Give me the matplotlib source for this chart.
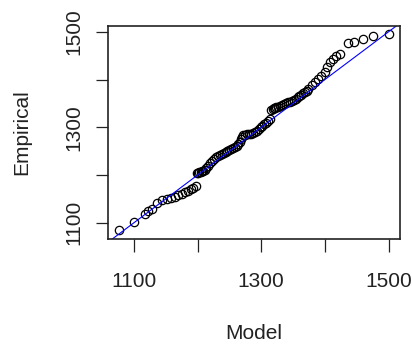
#!/usr/bin/env python
# -*- coding: utf-8 -*-

import matplotlib
matplotlib.use('Agg')
import matplotlib.pyplot as plt

# Q-Q points: model quantiles vs empirical quantiles
model_low = [1077, 1100, 1117, 1123, 1129, 1137, 1145, 1152, 1159, 1165,
			 1170, 1175, 1180, 1185, 1189, 1193, 1197]
empirical_low = [1084, 1101, 1118, 1124, 1130, 1142, 1147, 1149, 1151, 1155,
				 1158, 1161, 1164, 1167, 1170, 1173, 1177]

model_mid = [1199, 1201, 1203, 1205, 1207, 1209, 1211, 1214, 1217, 1220,
			 1223, 1226, 1229, 1232, 1235, 1238, 1241, 1244, 1247, 1250,
			 1253, 1256, 1259, 1262, 1264, 1266, 1268, 1270, 1272, 1275,
			 1278, 1281, 1284, 1287, 1290, 1293, 1296, 1299, 1302, 1305,
			 1308, 1311, 1314]
empirical_mid = [1204, 1205, 1206, 1207, 1208, 1209, 1211, 1215, 1220, 1226,
				 1230, 1234, 1237, 1240, 1242, 1244, 1246, 1248, 1250, 1252,
				 1254, 1256, 1258, 1260, 1264, 1270, 1276, 1280, 1283, 1284,
				 1285, 1286, 1287, 1288, 1290, 1293, 1297, 1300, 1303, 1306,
				 1310, 1314, 1318]

model_upper = [1316, 1318, 1320, 1322, 1324, 1327, 1330, 1333, 1336, 1339,
			   1342, 1345, 1348, 1351, 1354, 1357, 1360, 1363, 1366, 1369, 1372]
empirical_upper = [1336, 1338, 1340, 1341, 1342, 1343, 1345, 1346, 1348, 1350,
				   1352, 1354, 1356, 1358, 1360, 1363, 1366, 1368, 1371, 1374, 1377]

model_high = [1374, 1379, 1384, 1389, 1394, 1400, 1404, 1408, 1413, 1418,
			  1424, 1436, 1446, 1460, 1475, 1501]
empirical_high = [1380, 1388, 1394, 1402, 1408, 1416, 1427, 1437, 1444, 1450,
				  1454, 1476, 1478, 1485, 1492, 1496]

model = model_low + model_mid + model_upper + model_high
empirical = empirical_low + empirical_mid + empirical_upper + empirical_high

ticks = [1100, 1200, 1300, 1400, 1500]
tick_labels = ['1100', '', '1300', '', '1500']


def plot_qq(out_file='out.png'):
	plt.rcParams['font.family'] = ['Liberation Sans', 'DejaVu Sans']
	fig = plt.figure(figsize=(4.12, 3.47), dpi=100)
	ax = fig.add_axes([0.263, 0.311, 0.708, 0.614])

	ax.plot(model, empirical, linestyle='none', marker='o', markersize=6,
			markerfacecolor='none', markeredgecolor='black', markeredgewidth=0.9)
	ax.axline((0, 0), slope=1, color='blue', linewidth=0.8)

	ax.set_xlim(1060, 1518)
	ax.set_ylim(1066, 1512)

	ax.set_xticks(ticks)
	ax.set_xticklabels(tick_labels)
	ax.set_yticks(ticks)
	ax.set_yticklabels(tick_labels, rotation=90, va='center')
	ax.tick_params(axis='both', length=9, width=0.9, labelsize=15, colors='#222222')
	ax.tick_params(axis='x', pad=15)
	ax.tick_params(axis='y', pad=9)

	for s in ax.spines.values():
		s.set_linewidth(1.2)
		s.set_color('#222222')

	ax.set_xlabel('Model', fontsize=15, color='#222222', va='center')
	ax.xaxis.set_label_coords(0.5, -0.441)
	ax.set_ylabel('Empirical', fontsize=15, color='#222222', va='center')
	ax.yaxis.set_label_coords(-0.296, 0.5)

	fig.savefig(out_file, dpi=100)


def main():
	plot_qq('out.png')


if __name__ == '__main__':
	main()
